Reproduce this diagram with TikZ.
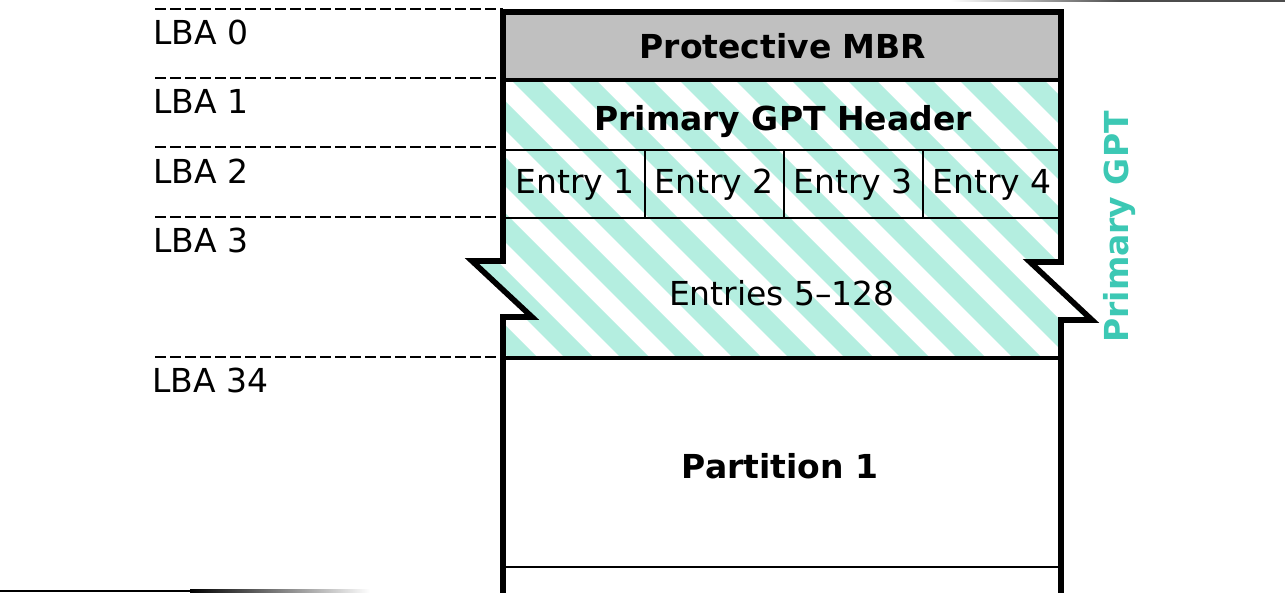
\documentclass[tikz,border=0pt]{standalone}
\usepackage{fontspec}
\setmainfont{DejaVu Sans}
\definecolor{mint}{HTML}{B4EEE0}
\definecolor{gptteal}{HTML}{3CC8B4}
\definecolor{mbrgray}{HTML}{C0C0C0}
\begin{document}
\begin{tikzpicture}[x=0.5pt,y=-0.5pt,
  lbl/.style={font=\fontsize{16.5}{20}\selectfont, inner sep=0pt, anchor=base west},
  txt/.style={font=\fontsize{16.5}{20}\selectfont, inner sep=0pt, anchor=base},
  btxt/.style={font=\fontsize{16.5}{20}\selectfont\bfseries, inner sep=0pt, anchor=base},
  guide/.style={dash pattern=on 5.5pt off 2pt, line width=1.3pt},
  frame/.style={line width=2.8pt, line join=miter},
  divthick/.style={line width=2.2pt},
  divthin/.style={line width=1.4pt}]
\useasboundingbox (0,0) rectangle (1285,593);
\fill[white] (0,0) rectangle (1285,593);
% artifacts at edges
\fill[black] (0,589.5) rectangle (190,592);
\shade[left color=black, right color=white] (190,589.5) rectangle (370,592);
\shade[left color=white, right color=black!70] (950,0) rectangle (1120,2);
\fill[black!70] (1120,0) rectangle (1285,2);
% MBR fill
\fill[mbrgray] (503,12) rectangle (1061,80);
% hatched region
\begin{scope}
\clip (503,80) -- (1061,80) -- (1061,262) -- (1030,262) -- (1092,320) -- (1061,320) -- (1061,358) -- (503,358) -- (503,317) -- (532,317) -- (472,261) -- (503,261) -- cycle;
\foreach \c in {39,95,...,1120}
  \fill[mint] (\c,0) -- ++(29,0) -- ++(400,400) -- ++(-29,0) -- cycle;
\end{scope}
% dividers
\draw[divthick] (503,80) -- (1061,80);
\draw[divthin] (503,150) -- (1061,150);
\draw[divthin] (503,218) -- (1061,218);
\draw[divthick] (503,358) -- (1061,358);
\draw[divthin] (503,567) -- (1061,567);
\foreach \x in {645,784,923} \draw[divthin] (\x,150) -- (\x,218);
% outer frame
\draw[frame] (503,600) -- (503,317) -- (532,317) -- (472,261) -- (503,261) -- (503,12) -- (1061,12) -- (1061,262) -- (1030,262) -- (1092,320) -- (1061,320) -- (1061,600);
% guides
\foreach \y [count=\i] in {9,78,147,217,357} {
  \coordinate (gl\i) at (155,\y);
  \coordinate (gr\i) at (503,\y);
  \draw[guide] (gl\i) -- (gr\i);
}
% labels
\node[lbl] (lba0) at (153,45) {LBA 0};
\node[lbl] (lba1) at (153,114) {LBA 1};
\node[lbl] (lba2) at (153,184) {LBA 2};
\node[lbl] (lba3) at (153,253) {LBA 3};
\node[lbl] (lba34) at (152,392) {LBA 34};
% box texts
\node[btxt] (mbr) at (783,59) {Protective MBR};
\node[btxt] (hdr) at (783,131) {Primary GPT Header};
\node[txt] (e1) at (575,194) {Entry 1};
\node[txt] (e2) at (714,194) {Entry 2};
\node[txt] (e3) at (853,194) {Entry 3};
\node[txt] (e4) at (992,194) {Entry 4};
\node[txt] (erest) at (782,306) {Entries 5–128};
\node[btxt] (part1) at (780,478) {Partition 1};
\node[btxt, text=gptteal, rotate=90] (gpt) at (1128,227) {Primary GPT};
\end{tikzpicture}
\end{document}
